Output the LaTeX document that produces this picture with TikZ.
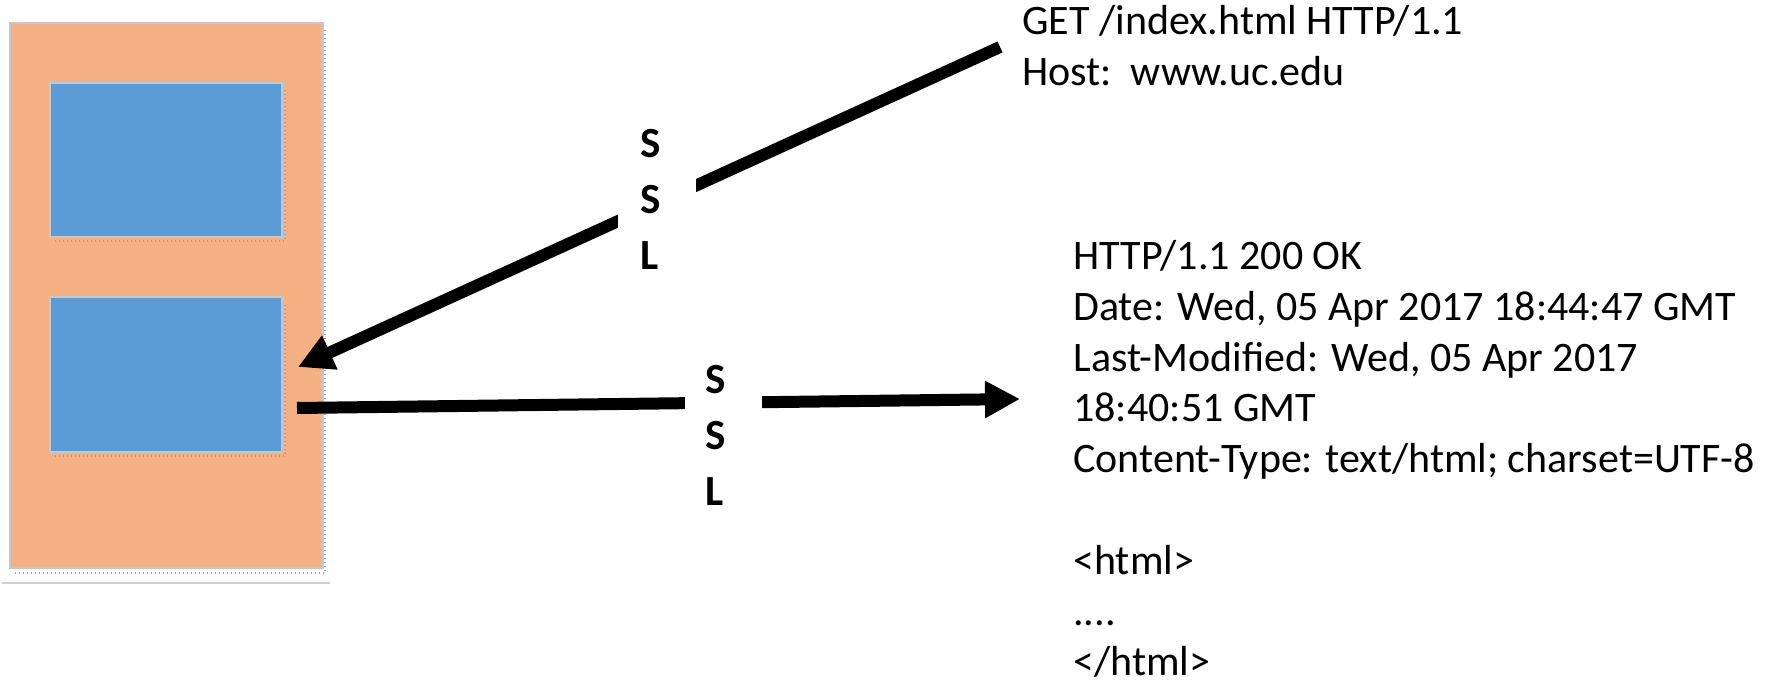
\documentclass[tikz,border=0pt]{standalone}
\usepackage{fontspec}
\setmainfont{Carlito}
\usetikzlibrary{arrows.meta}
\definecolor{boxorange}{HTML}{F4B183}
\definecolor{boxblue}{HTML}{5B9BD5}
\definecolor{edgegray}{HTML}{C4C8CC}
\definecolor{dotblue}{HTML}{6FA8DC}
\definecolor{rulegray}{HTML}{D0D0D0}
\tikzset{
  panel/.style={fill=boxorange, draw=edgegray, line width=0.8pt, inner sep=0pt, outer sep=0pt},
  win/.style={fill=boxblue, draw=edgegray, line width=0.8pt, inner sep=0pt, outer sep=0pt},
  seldots/.style={draw=dotblue, line width=0.8pt, dash pattern=on 0.7pt off 1.3pt},
  bigarrow/.style={line width=6pt, -{Triangle[length=17.5pt,width=17.5pt]}},
  ssl/.style={fill=white, align=left, font=\bfseries\fontsize{21.5}{28}\selectfont},
  msg/.style={align=left, inner sep=0pt, anchor=north west}
}
\begin{document}
\begin{tikzpicture}[x=0.5pt,y=-0.5pt]
\useasboundingbox (0,0) rectangle (1774,685);
% client panel
\node[panel, minimum width=156.5pt, minimum height=272.5pt] (client) at (166.5,295.5) {};
\node[win, minimum width=116pt, minimum height=77pt] (win1) at (166,160) {};
\node[win, minimum width=116pt, minimum height=77.5pt] (win2) at (166,374.5) {};
% selection dots
\draw[seldots] (325,30) -- (325,573) -- (13,573);
\draw[seldots] (285,90) -- (285,241) -- (52,241);
\draw[seldots] (285,305) -- (285,456) -- (52,456);
\draw[draw=rulegray, line width=0.8pt] (2,583) -- (330,583);
% messages
\node[msg, font=\fontsize{21}{25.5}\selectfont] (req) at (1022,5) {GET /index.html HTTP/1.1\\Host:\ \ www.uc.edu};
\node[msg, font=\fontsize{21}{25.4}\selectfont] (resp) at (1073,240) {HTTP/1.1 200 OK\\
Date: Wed, 05 Apr 2017 18:44:47 GMT\\
Last-Modified: Wed, 05 Apr 2017\\
18:40:51 GMT\\
Content-Type: text/html; charset=UTF-8\\[25.4pt]
<html>\\
....\\
</html>};
% arrow end points
\coordinate (a1s) at (1000,47);
\coordinate (a1e) at (298,367);
\coordinate (a2s) at (297,408);
\coordinate (a2e) at (1020,399);
\draw[bigarrow] (a1s) -- (a1e);
\draw[bigarrow] (a2s) -- (a2e);
% SSL labels (cover the arrows)
\node[ssl, text width=17pt, minimum width=39pt] (ssl1) at (657,199) {S\\S\\L};
\node[ssl, text width=18.5pt, minimum width=38.5pt] (ssl2) at (723.5,435) {S\\S\\L};
\end{tikzpicture}
\end{document}
